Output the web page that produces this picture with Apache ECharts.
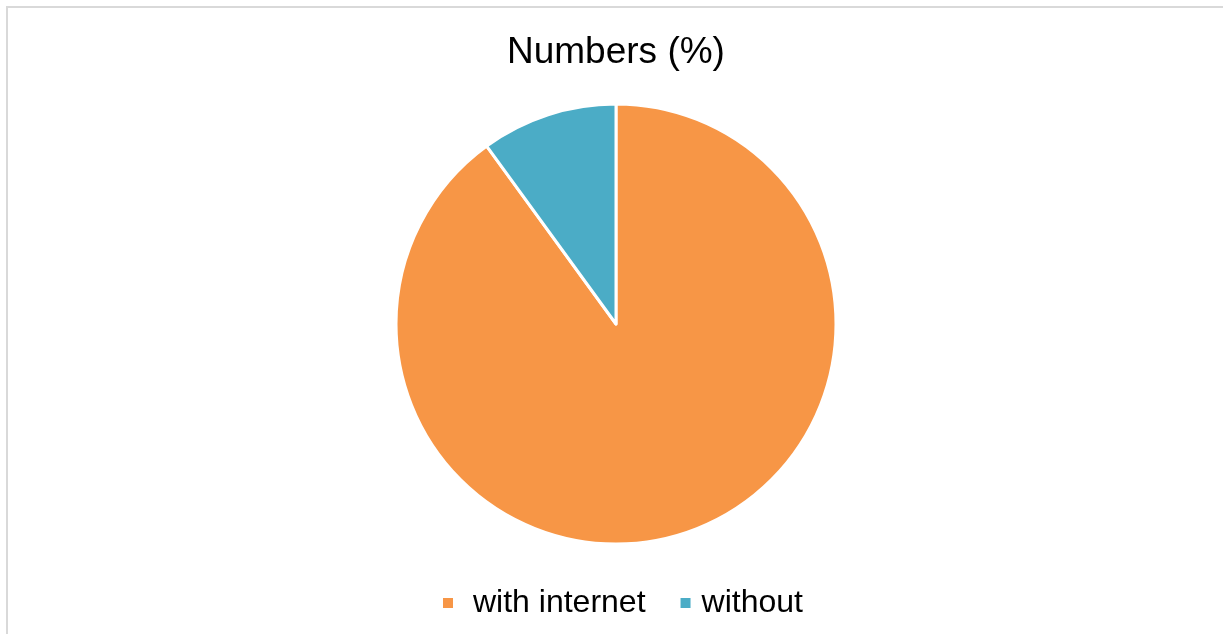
<!DOCTYPE html>
<html>
<head>
<meta charset="utf-8">
<script src="https://cdn.jsdelivr.net/npm/echarts@6/dist/echarts.min.js"></script>
<style>
html,body{margin:0;padding:0;background:#fff;overflow:hidden;width:1223px;height:634px;}
#frame{position:absolute;left:6px;top:6px;width:1300px;height:700px;border-left:2px solid #d9d9d9;border-top:2px solid #d9d9d9;}
#chart{position:absolute;left:0;top:0;width:1223px;height:634px;}
</style>
</head>
<body>
<div id="frame"></div>
<div id="chart"></div>
<script>
const titleText = "Numbers (%)";
const categories = ["with internet", "without"];
const values = [90, 10];
const colors = ["#F79646", "#4BACC6"];
const legendTextPad = [14, 5];

const chart = echarts.init(document.getElementById('chart'), null, {renderer: 'canvas'});
chart.setOption({
  animation: false,
  color: colors,
  title: {
    text: titleText,
    left: 502,
    top: 29,
    textStyle: {fontFamily: 'Liberation Sans, Arial, sans-serif', fontSize: 37, fontWeight: 'normal', color: '#000'}
  },
  legend: {
    data: categories.map((c, i) => ({name: c, textStyle: {padding: [0, 0, 0, legendTextPad[i]]}})),
    top: 582,
    left: 436,
    icon: 'rect',
    itemWidth: 12,
    itemHeight: 12,
    itemGap: 33,
    textStyle: {fontFamily: 'Liberation Sans, Arial, sans-serif', fontSize: 32, color: '#000'}
  },
  series: [{
    type: 'pie',
    center: [616, 324],
    radius: [0, 220],
    startAngle: 90,
    clockwise: true,
    label: {show: false},
    labelLine: {show: false},
    itemStyle: {borderColor: '#fff', borderWidth: 3},
    emphasis: {disabled: true},
    data: categories.map((c, i) => ({name: c, value: values[i]}))
  }]
});
</script>
</body>
</html>
